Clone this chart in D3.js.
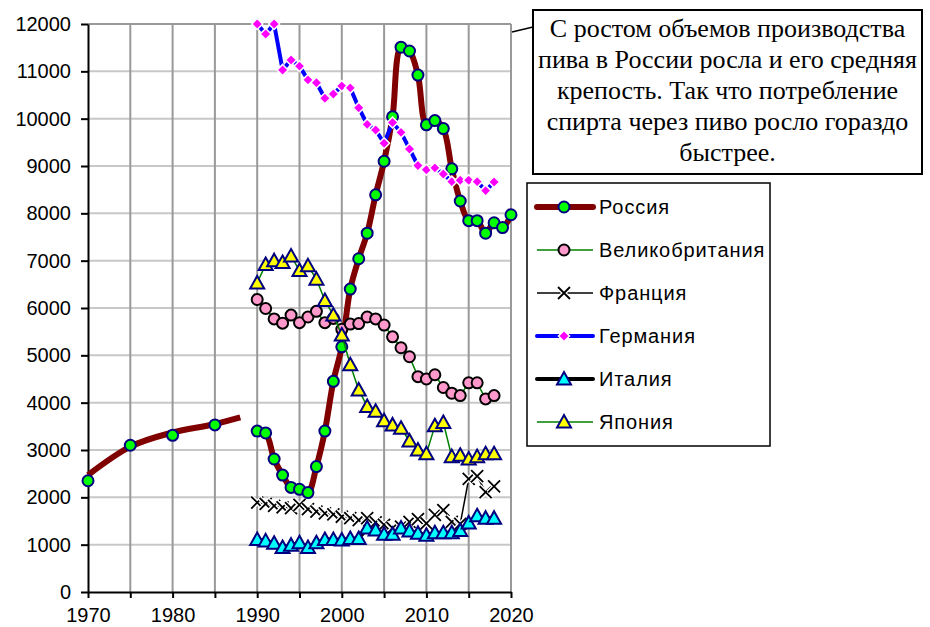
<!DOCTYPE html>
<html lang="ru">
<head>
<meta charset="UTF-8">
<title>Потребление спирта через пиво</title>
<script src="https://cdn.jsdelivr.net/npm/d3@7"></script>
<style>
    body { margin: 0; background: #fff; }
    svg { display: block; }
    .axis text { font-family: Arial, "Liberation Sans", sans-serif; font-size: 20px; fill: #000; }
    .legend text { font-family: Arial, "Liberation Sans", sans-serif; font-size: 20px; letter-spacing: 0.9px; fill: #000; }
    .note text { font-family: "Times New Roman", "Liberation Serif", serif; font-size: 26px; fill: #000; }
</style>
</head>
<body>
<div id="wrap"></div>
<script>
// tick labels
var xTicks = [1970, 1975, 1980, 1985, 1990, 1995, 2000, 2005, 2010, 2015, 2020];
var xLabels = [1970, 1980, 1990, 2000, 2010, 2020];
var yTicks = [0, 1000, 2000, 3000, 4000, 5000, 6000, 7000, 8000, 9000, 10000, 11000, 12000];

// Россия, ранние годы (точки) и сглаженная линия тренда
var russiaEarlyYears = [1970, 1975, 1980, 1985];
var russiaEarly = [2350, 3100, 3310, 3530];
var russiaTrendYears = [1970, 1975, 1980, 1985, 1988];
var russiaTrend = [2470, 3070, 3370, 3550, 3690];

// годы 1990-2020
var russiaYears = [1990, 1991, 1992, 1993, 1994, 1995, 1996, 1997, 1998, 1999, 2000, 2001, 2002, 2003, 2004, 2005,
    2006, 2007, 2008, 2009, 2010, 2011, 2012, 2013, 2014, 2015, 2016, 2017, 2018, 2019, 2020];
var russia = [3400, 3360, 2810, 2470, 2210, 2170, 2100, 2650, 3400, 4450, 5180, 6400, 7040, 7580, 8390, 9100,
    10040, 11510, 11430, 10920, 9870, 9960, 9790, 8940, 8260, 7845, 7845, 7580, 7800, 7700, 7970];

var years = [1990, 1991, 1992, 1993, 1994, 1995, 1996, 1997, 1998, 1999, 2000, 2001, 2002, 2003, 2004, 2005,
    2006, 2007, 2008, 2009, 2010, 2011, 2012, 2013, 2014, 2015, 2016, 2017, 2018];
var uk = [6180, 5990, 5770, 5680, 5850, 5690, 5810, 5930, 5690, 5780, 5550, 5660, 5670, 5810, 5770, 5640,
    5390, 5160, 4970, 4550, 4500, 4590, 4320, 4200, 4150, 4420, 4420, 4080, 4150];
var france = [1890, 1860, 1820, 1790, 1770, 1840, 1750, 1700, 1660, 1640, 1590, 1560, 1520, 1560, 1470, 1420,
    1350, 1380, 1480, 1540, 1450, 1630, 1730, 1480, 1440, 2390, 2450, 2110, 2230];
var germany = [12000, 11790, 12000, 11030, 11240, 11110, 10820, 10760, 10430, 10520, 10690, 10650, 10230, 9880, 9760, 9480,
    9920, 9710, 9360, 9010, 8920, 8960, 8830, 8670, 8700, 8700, 8670, 8480, 8660];
var italy = [1110, 1080, 1030, 940, 990, 1040, 940, 1040, 1110, 1110, 1100, 1130, 1130, 1350, 1310, 1220,
    1220, 1350, 1290, 1240, 1200, 1250, 1250, 1250, 1300, 1460, 1610, 1560, 1560];
var japan = [6530, 6920, 7000, 6960, 7100, 6790, 6890, 6610, 6160, 5850, 5430, 4800, 4270, 3920, 3820, 3620,
    3530, 3460, 3190, 3000, 2920, 3510, 3580, 2860, 2890, 2810, 2860, 2920, 2920];

var names = ['Россия', 'Великобритания', 'Франция', 'Германия', 'Италия', 'Япония'];
var note = ['С ростом объемов производства', 'пива в России росла и его средняя',
    'крепость. Так что потребление', 'спирта через пиво росло гораздо', 'быстрее.'];

var WIDTH = 930, HEIGHT = 627;
var NAVY = '#000080';

var svg = d3.select('#wrap').append('svg').attr('width', WIDTH).attr('height', HEIGHT);

var x = d3.scaleLinear().domain([1970, 2020]).range([88, 511]);
var y = d3.scaleLinear().domain([0, 12000]).range([592, 24]);

// сетка
var grid = svg.append('g');
grid.selectAll('.hg').data(yTicks.slice(1)).enter().append('line')
    .attr('x1', x(1970)).attr('x2', x(2020))
    .attr('y1', function(d) { return y(d); }).attr('y2', function(d) { return y(d); })
    .attr('stroke', '#c8c8c8').attr('stroke-width', 2);
grid.selectAll('.vg').data(xTicks.slice(1)).enter().append('line')
    .attr('x1', function(d) { return x(d); }).attr('x2', function(d) { return x(d); })
    .attr('y1', y(0)).attr('y2', y(12000))
    .attr('stroke', '#999').attr('stroke-width', 2);
grid.append('line').attr('x1', x(1970)).attr('x2', x(2020)).attr('y1', y(12000)).attr('y2', y(12000))
    .attr('stroke', '#999').attr('stroke-width', 2);

// оси
svg.append('g').attr('class', 'axis').attr('transform', 'translate(0,' + y(0) + ')')
    .call(d3.axisBottom(x).tickValues(xTicks)
        .tickFormat(function(d) { return xLabels.indexOf(d) >= 0 ? d : ''; })
        .tickSize(6).tickPadding(10).tickSizeOuter(0));
svg.append('g').attr('class', 'axis').attr('transform', 'translate(' + x(1970) + ',0)')
    .call(d3.axisLeft(y).tickValues(yTicks).tickFormat(d3.format('d')).tickSize(7).tickPadding(10).tickSizeOuter(0));
svg.selectAll('.axis path, .axis line').attr('stroke', '#000').attr('stroke-width', 2);

// маркеры
function circleM(g, r, fill, stroke) {
    return g.append('circle').attr('r', r).attr('fill', fill).attr('stroke', stroke).attr('stroke-width', 2);
}
function triM(g, fill) {
    return g.append('path').attr('d', 'M0,-7L7,5.5L-7,5.5Z').attr('fill', fill)
        .attr('stroke', NAVY).attr('stroke-width', 2).attr('stroke-linejoin', 'miter');
}
function diaM(g) {
    return g.append('path').attr('d', 'M0,-5.5L5.5,0L0,5.5L-5.5,0Z').attr('fill', '#ff00ff')
        .attr('stroke', '#fff').attr('stroke-width', 1.5);
}
function crossM(g) {
    var d = 'M-6,-6L6,6M-6,6L6,-6';
    g.append('path').attr('d', d).attr('stroke', '#fff').attr('stroke-width', 4.5);
    g.append('path').attr('d', d).attr('stroke', '#000').attr('stroke-width', 1.8);
}
var markers = [
    function(g) { circleM(g, 5.5, '#00ff00', NAVY); },
    function(g) { circleM(g, 5.5, '#ff99cc', '#000'); },
    function(g) { crossM(g); },
    function(g) { diaM(g); },
    function(g) { triM(g, '#00ffff'); },
    function(g) { triM(g, '#ffff00'); }
];
var lineStyles = [
    { color: '#800000', width: 6 },
    { color: '#008000', width: 1.5 },
    { color: '#000', width: 1.5 },
    { color: '#0000ff', width: 4 },
    { color: '#000', width: 4 },
    { color: '#008000', width: 1.5 }
];

var plot = svg.append('g');

function drawSeries(xs, vals, idx, curve, withLine) {
    var pts = xs.map(function(d, i) { return [d, vals[i]]; });
    if (withLine) {
        var line = d3.line().x(function(d) { return x(d[0]); }).y(function(d) { return y(d[1]); })
            .curve(curve || d3.curveLinear);
        plot.append('path').datum(pts).attr('d', line).attr('fill', 'none')
            .attr('stroke', lineStyles[idx].color).attr('stroke-width', lineStyles[idx].width)
            .attr('stroke-linejoin', 'round').attr('stroke-linecap', 'round');
    }
    plot.append('g').selectAll('g').data(pts).enter().append('g')
        .attr('transform', function(d) { return 'translate(' + x(d[0]) + ',' + y(d[1]) + ')'; })
        .each(function() { markers[idx](d3.select(this)); });
}

// Россия: тренд + точки
plot.append('path').datum(russiaTrendYears.map(function(d, i) { return [d, russiaTrend[i]]; }))
    .attr('d', d3.line().x(function(d) { return x(d[0]); }).y(function(d) { return y(d[1]); }).curve(d3.curveMonotoneX))
    .attr('fill', 'none').attr('stroke', '#800000').attr('stroke-width', 6);
drawSeries(russiaEarlyYears, russiaEarly, 0, null, false);
drawSeries(russiaYears, russia, 0, d3.curveCatmullRom, true);
drawSeries(years, uk, 1, null, true);
drawSeries(years, france, 2, null, true);
drawSeries(years, germany, 3, null, true);
drawSeries(years, italy, 4, null, true);
drawSeries(years, japan, 5, null, true);

// легенда
var lg = svg.append('g').attr('class', 'legend');
lg.append('rect').attr('x', 527).attr('y', 183).attr('width', 243).attr('height', 263)
    .attr('fill', '#fff').attr('stroke', '#000').attr('stroke-width', 1.5);
names.forEach(function(n, i) {
    var cy = 207 + i * 43;
    var row = lg.append('g');
    row.append('line').attr('x1', 537).attr('x2', 593).attr('y1', cy).attr('y2', cy)
        .attr('stroke', lineStyles[i].color).attr('stroke-width', lineStyles[i].width)
        .attr('stroke-linecap', lineStyles[i].width > 2 ? 'round' : 'butt');
    markers[i](row.append('g').attr('transform', 'translate(564,' + cy + ')'));
    row.append('text').attr('x', 599).attr('y', cy).attr('dy', '0.36em').text(n);
});

// выноска
var nt = svg.append('g').attr('class', 'note');
nt.append('line').attr('x1', 512).attr('y1', 32).attr('x2', 533).attr('y2', 27)
    .attr('stroke', '#000').attr('stroke-width', 1.5);
nt.append('rect').attr('x', 533).attr('y', 10).attr('width', 389).attr('height', 164)
    .attr('fill', '#fff').attr('stroke', '#000').attr('stroke-width', 2);
nt.selectAll('text.l').data(note).enter().append('text')
    .attr('x', 727.5).attr('y', function(d, i) { return 37 + i * 31; })
    .attr('text-anchor', 'middle').text(function(d) { return d; });
</script>
</body>
</html>
